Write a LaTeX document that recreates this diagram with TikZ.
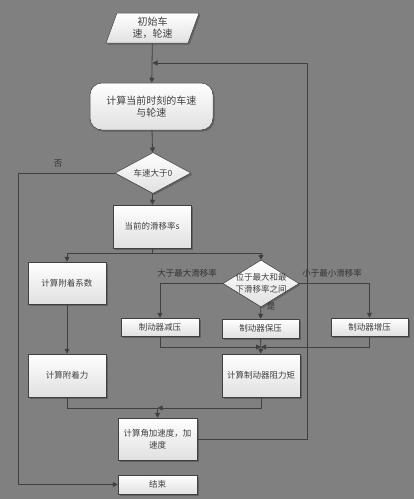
\documentclass[tikz,border=0pt]{standalone}
\usepackage{fontspec}
\newfontfamily\cjk{Noto Sans CJK SC}
\usetikzlibrary{shapes.geometric,shadows,arrows.meta}
\colorlet{bg}{black!50}
\colorlet{ln}{black!75}
\tikzset{
  >={Triangle[length=5pt,width=5pt]},
  box/.style={draw=ln,line width=0.5pt,top color=white,bottom color=black!12,
    drop shadow={shadow xshift=1.5pt,shadow yshift=-1.5pt,fill=black!62,opacity=1},
    font=\cjk\fontsize{8.5}{12}\selectfont,text=black!75,align=center,inner sep=1pt},
  big/.style={font=\cjk\fontsize{10}{12}\selectfont},
  io/.style={box,trapezium,trapezium left angle=65,trapezium right angle=115,
    trapezium stretches body,minimum width=93pt,minimum height=30pt},
  decision/.style={box,diamond,inner sep=-6pt,minimum width=76pt,minimum height=41pt},
  flow/.style={ln,line width=0.8pt},
  lbl/.style={font=\cjk\fontsize{8.5}{10}\selectfont,text=black!80,inner sep=0pt}
}
\begin{document}
\begin{tikzpicture}[x=1pt,y=-1pt]
\fill[bg] (0,0) rectangle (414,499);
% boxes
\node[io,big] (start) at (152.5,28) {初始车\\速，轮速};
\node[box,big,rounded corners=12pt,minimum width=123pt,minimum height=47pt] (calc) at (151.5,106.5) {计算当前时刻的车速\\与轮速};
\node[decision] (speed) at (153,173) {车速大于0};
\node[box,minimum width=78pt,minimum height=43pt] (slip) at (152,226.5) {当前的滑移率s};
\node[box,minimum width=78pt,minimum height=42pt] (coef) at (67,283) {计算附着系数};
\node[decision] (range) at (261,283.5) {位于最大和最\\下滑移率之间};
\node[box,minimum width=78pt,minimum height=18pt] (dec) at (160,327) {制动器减压};
\node[box,minimum width=77pt,minimum height=19pt] (hold) at (260.5,328.5) {制动器保压};
\node[box,minimum width=77pt,minimum height=18pt] (inc) at (369.5,327) {制动器增压};
\node[box,minimum width=78pt,minimum height=43pt] (force) at (67,375.5) {计算附着力};
\node[box,minimum width=78pt,minimum height=43pt] (torque) at (261,375.5) {计算制动器阻力矩};
\node[box,minimum width=79pt,minimum height=42pt] (accel) at (157.5,439) {计算角加速度，加\\速度};
\node[box,minimum width=79pt,minimum height=19pt] (end) at (157.5,484.5) {结束};
% joints
\coordinate (top) at (152.5,63);
\coordinate (split) at (152,253);
\coordinate (merge) at (261,347);
\coordinate (join) at (157.5,408);
% connectors
\draw[flow,->] (start) -- (calc);
\draw[flow,->] (accel.east) -| (307,63) -- (top);
\draw[flow,->] (calc) -- (speed);
\draw[flow,->] (speed.west) -| (18,484.5) -- (end.west);
\draw[flow,->] (speed) -- (slip);
\draw[flow] (slip) -- (split);
\draw[flow,->] (split) -| (coef.north);
\draw[flow,->] (split) -| (range.north);
\draw[flow,->] (range.west) -| (dec.north);
\draw[flow,->] (range) -- (hold);
\draw[flow,->] (range.east) -| (inc.north);
\draw[flow,->] (dec.south) |- (merge);
\draw[flow,->] (inc.south) |- (merge);
\draw[flow,->] (hold) -- (torque);
\draw[flow,->] (coef) -- (force);
\draw[flow] (force.south) |- (join);
\draw[flow,->] (torque.south) |- (join);
\draw[flow,->] (join) -- (accel);
% labels
\node[lbl] (no) at (58,164) {否};
\node[lbl] (big) at (187,273) {大于最大滑移率};
\node[lbl] (yes) at (271,306) {是};
\node[lbl] (small) at (332,273) {小于最小滑移率};
\end{tikzpicture}
\end{document}
